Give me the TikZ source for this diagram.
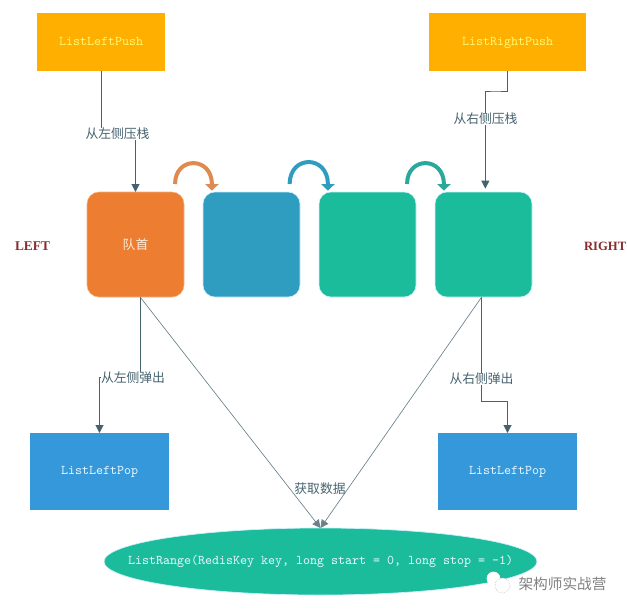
\documentclass[tikz,border=0pt]{standalone}
\usepackage{fontspec}
\usetikzlibrary{arrows.meta,shapes.geometric}
\newfontfamily\cjk{Noto Sans CJK SC}
\newfontfamily\sidefont{Liberation Serif}
\definecolor{pushcolor}{HTML}{FFAF00}
\definecolor{popcolor}{HTML}{3498DB}
\definecolor{headcolor}{HTML}{ED7D31}
\definecolor{bluecolor}{HTML}{2E9DBF}
\definecolor{tealcolor}{HTML}{1ABC9C}
\definecolor{edgecolor}{HTML}{46626F}
\definecolor{sidecolor}{HTML}{8A2B2E}
\definecolor{hopone}{HTML}{DE8A50}
\definecolor{hopthree}{HTML}{2BA89C}

\begin{document}
\begin{tikzpicture}[x=0.75pt, y=-0.75pt,
    every node/.style={inner sep=0pt, outer sep=0pt},
    pushbox/.style={fill=pushcolor, text=yellow!55!white, minimum height=43.5pt, text height=6.5pt, text depth=1.5pt, font=\ttfamily},
    popbox/.style={fill=popcolor, text=cyan!8!white, minimum width=104.25pt, minimum height=57.75pt, text height=6.5pt, text depth=1.5pt, font=\ttfamily},
    queuebox/.style={rounded corners=9pt, minimum width=72.75pt, minimum height=78.75pt},
    edge/.style={draw=edgecolor, line width=0.75pt, -{Triangle[width=6pt, length=6pt]}},
    pickedge/.style={edge, draw=edgecolor!80, line width=0.5pt},
    hop/.style={line width=3pt, out=90, in=90, looseness=2.5, shorten <=6pt, shorten >=1pt, -{Triangle[width=10pt, length=5pt]}},
    lbl/.style={fill=white, text=edgecolor, font=\cjk\fontsize{9.6pt}{12pt}\selectfont},
    side/.style={text=sidecolor, font=\sidefont\bfseries\fontsize{10pt}{12pt}\selectfont}]

    \useasboundingbox (0,0) rectangle (627,611);

    \node[pushbox, minimum width=96pt] (lpush) at (101,42) {ListLeftPush};
    \node[pushbox, minimum width=117.75pt] (rpush) at (507.5,42) {ListRightPush};

    \node[queuebox, fill=headcolor, draw=headcolor!60!white, line width=0.4pt, text=orange!15!white, font=\cjk\fontsize{9.6pt}{12pt}\selectfont] (q1) at (135.5,244.5) {队首};
    \node[queuebox, fill=bluecolor, draw=cyan!20!white, line width=0.4pt] (q2) at (251.5,244.5) {};
    \node[queuebox, fill=tealcolor, draw=cyan!20!white, line width=0.4pt] (q3) at (367.5,244.5) {};
    \node[queuebox, fill=tealcolor, draw=cyan!20!white, line width=0.4pt] (q4) at (483.5,244.5) {};

    \node[popbox] (lpop) at (99.5,471.5) {ListLeftPop};
    \node[popbox] (rpop) at (507.5,471.5) {ListLeftPop};
    \node[ellipse, fill=tealcolor, draw=cyan!20!white, line width=0.5pt, text=cyan!8!white, minimum width=324.75pt, minimum height=50.25pt, text height=6.5pt, text depth=1.5pt, font=\ttfamily] (range) at (320.5,561.5) {\makebox[0pt]{ListRange(RedisKey key, long start = 0, long stop = -1)}};

    \node[side] (left) at (32.5,246) {LEFT};
    \node[side, anchor=west, font=\sidefont\bfseries\fontsize{9.5pt}{12pt}\selectfont] (right) at (584,246) {RIGHT};

    \coordinate (lpushbend) at (117,133);
    \coordinate (rpushbend) at (495,91);
    \coordinate (lpopbend) at (120,377);
    \coordinate (rpopbend) at (495,401);

    \draw[edge] (lpush.south) |- (lpushbend) -| (q1.north);
    \draw[edge, shorten >=2.5pt] (rpush.south) |- (rpushbend) -| (q4.88);
    \draw[edge] (q1.-85) |- (lpopbend) -| (lpop.north);
    \draw[edge] (q4.-92) |- (rpopbend) -| (rpop.north);
    \draw[pickedge] (q1.-85) -- (range.north);
    \draw[pickedge] (q4.-92) -- (range.north);

    \draw[hop, draw=hopone] (q1.53) to (q2.127);
    \draw[hop, draw=bluecolor] (q2.54) to (q3.127);
    \draw[hop, draw=hopthree] (q3.53) to (q4.127);

    \node[lbl] (lpushlab) at (117.5,134) {从左侧压栈};
    \node[lbl] (rpushlab) at (485.5,119) {从右侧压栈};
    \node[lbl] (lpoplab) at (133,378) {从左侧弹出};
    \node[lbl] (rpoplab) at (481.5,379) {从右侧弹出};
    \node[lbl, fill=none] (picklab) at (320,489) {获取数据};

    \draw[white, fill=white, line width=0.5pt] (493.5,578.5) ellipse (6.5 and 6.5);
    \draw[gray!70, fill=white, line width=0.4pt, densely dotted] (502.5,585.5) ellipse (7.5 and 7.5);
    \node[text=gray, font=\cjk\fontsize{11pt}{13pt}\selectfont] (mark) at (562.5,584) {架构师实战营};
\end{tikzpicture}
\end{document}
